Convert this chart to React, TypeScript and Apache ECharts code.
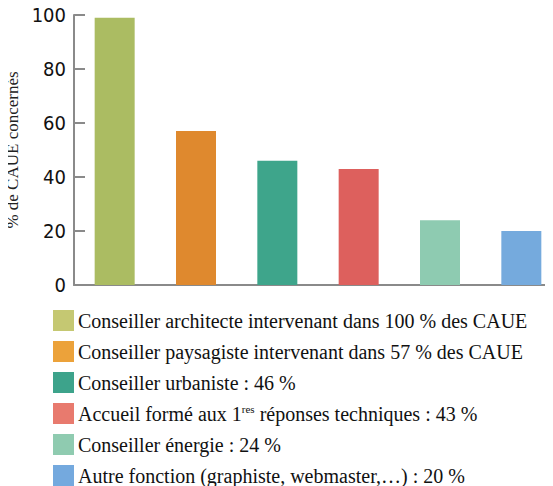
import React, { useEffect, useRef } from "react";
import * as echarts from "echarts";

const categories = ["architecte", "paysagiste", "urbaniste", "accueil", "energie", "autre"];
const values = [99, 57, 46, 43, 24, 20];
const legendNames = [
  "Conseiller architecte intervenant dans 100 % des CAUE",
  "Conseiller paysagiste intervenant dans 57 % des CAUE",
  "Conseiller urbaniste : 46 %",
  "Accueil formé aux 1{sup|res} réponses techniques : 43 %",
  "Conseiller énergie : 24 %",
  "Autre fonction (graphiste, webmaster,…) : 20 %",
];
const barColors = ["#abbc62", "#df892e", "#3ea58b", "#dd605d", "#8ecbb1", "#75aadd"];
const legendColors = ["#c5c872", "#eca23a", "#3da38b", "#e87a6e", "#8fcbb0", "#74a9de"];
const yTicks = [0, 20, 40, 60, 80, 100];

export default function App() {
  const ref = useRef<HTMLDivElement>(null);
  useEffect(() => {
    const chart = echarts.init(ref.current!, null, { renderer: "svg" });
    const series = categories.map((c, i) => ({
      type: "bar",
      name: legendNames[i],
      stack: "all",
      barWidth: 40,
      itemStyle: { color: barColors[i] },
      data: categories.map((_, j) => (j === i ? values[i] : "-")),
    }));
    chart.setOption({
      animation: false,
      grid: { left: 74, top: 15, height: 270, width: 488, outerBoundsMode: "none", containLabel: false },
      xAxis: {
        type: "category",
        data: categories,
        axisLine: { lineStyle: { color: "#8a8a8a", width: 2 } },
        axisTick: { inside: true, length: 5, lineStyle: { color: "#8a8a8a", width: 2 } },
        axisLabel: { show: false },
      },
      yAxis: {
        type: "value",
        min: 0,
        max: yTicks[yTicks.length - 1],
        interval: 20,
        name: "% de CAUE concernés",
        nameLocation: "middle",
        nameGap: 50,
        nameTextStyle: { fontFamily: "Liberation Serif", fontSize: 17, color: "#222" },
        axisLine: { show: true, lineStyle: { color: "#8a8a8a", width: 2 } },
        axisTick: { show: true, inside: true, length: 11, lineStyle: { color: "#8a8a8a", width: 2 } },
        splitLine: { show: false },
        axisLabel: {
          color: "#111",
          fontSize: 20,
          margin: 8,
          fontFamily: "Liberation Sans Narrow, DejaVu Sans Condensed, sans-serif",
        },
      },
      legend: {
        orient: "vertical",
        left: 53,
        top: 310,
        height: 200,
        padding: 0,
        itemWidth: 21,
        itemHeight: 21,
        itemGap: 10,
        icon: "rect",
        selectedMode: false,
        data: legendNames.map((n, i) => ({ name: n, itemStyle: { color: legendColors[i] } })),
        textStyle: {
          fontFamily: "Liberation Serif",
          fontSize: 20,
          color: "#111",
          padding: [0, 0, 0, -1],
          rich: {
            sup: { fontFamily: "Liberation Serif", fontSize: 11, verticalAlign: "top", padding: [0, 0, 9, 0], color: "#111" },
          },
        },
      },
      series,
    });
    return () => chart.dispose();
  }, []);
  return <div ref={ref} style={{ width: 553, height: 486, marginLeft: -8, marginTop: -8 }} />;
}
